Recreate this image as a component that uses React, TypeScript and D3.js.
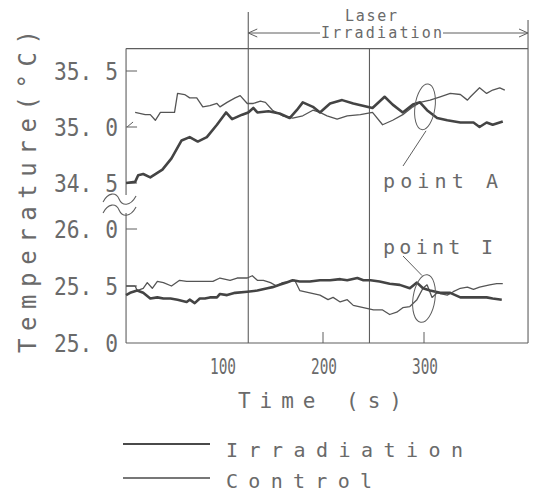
import React from "react";
import * as d3 from "d3";

// ---- data ----
const tA_irr = [5,14,17,22,29,41,50,60,68,76,85,95,104,110,120,126,131,135,146,157,167,174,180,190,197,207,219,230,249,261,269,279,289,296,303,313,323,336,349,355,362,368,378];
const vA_irr = [34.50,34.51,34.57,34.58,34.55,34.62,34.72,34.88,34.91,34.87,34.91,35.02,35.13,35.07,35.11,35.13,35.17,35.13,35.14,35.12,35.08,35.15,35.22,35.18,35.13,35.21,35.24,35.21,35.17,35.27,35.20,35.13,35.20,35.22,35.15,35.08,35.06,35.04,35.04,35.00,35.04,35.02,35.05];
const tA_ctl = [14,24,29,34,39,46,53,56,63,68,75,81,88,95,98,105,113,118,125,131,138,143,150,160,170,180,190,197,204,214,224,237,249,259,269,279,289,296,306,316,326,336,343,346,355,362,368,375,380];
const vA_ctl = [35.13,35.11,35.11,35.06,35.13,35.13,35.13,35.30,35.29,35.26,35.26,35.18,35.19,35.21,35.18,35.22,35.26,35.28,35.21,35.21,35.23,35.22,35.15,35.10,35.08,35.10,35.15,35.13,35.10,35.07,35.10,35.11,35.13,35.02,35.06,35.11,35.18,35.22,35.24,35.27,35.30,35.29,35.24,35.27,35.35,35.30,35.33,35.35,35.33];
const tI_irr = [5,9,16,22,29,36,42,49,56,65,68,73,78,83,88,95,98,105,113,125,135,145,150,157,164,170,177,187,197,207,217,224,234,240,247,256,266,276,286,293,299,306,316,326,336,343,352,362,368,377];
const vI_irr = [25.42,25.44,25.46,25.44,25.39,25.40,25.39,25.39,25.38,25.36,25.38,25.35,25.39,25.39,25.40,25.40,25.43,25.42,25.44,25.45,25.46,25.48,25.49,25.51,25.53,25.55,25.54,25.54,25.55,25.55,25.56,25.55,25.57,25.55,25.55,25.54,25.52,25.51,25.48,25.53,25.48,25.46,25.44,25.44,25.40,25.40,25.40,25.40,25.39,25.38];
const tI_ctl = [5,14,16,22,26,31,36,42,50,58,65,75,85,91,98,108,115,125,130,135,141,148,154,160,167,172,177,187,197,205,210,217,224,230,240,250,259,266,273,279,286,293,299,303,308,313,323,329,336,343,349,355,365,372,378];
const vI_ctl = [25.50,25.50,25.46,25.48,25.53,25.48,25.54,25.53,25.50,25.55,25.54,25.54,25.54,25.54,25.57,25.55,25.57,25.57,25.59,25.55,25.55,25.53,25.50,25.53,25.54,25.55,25.46,25.44,25.42,25.38,25.40,25.36,25.38,25.33,25.31,25.29,25.29,25.25,25.27,25.31,25.32,25.38,25.48,25.51,25.40,25.44,25.42,25.45,25.48,25.49,25.47,25.49,25.51,25.52,25.52];

const xTicks = [100, 200, 300];
const yUpTicks = [34.5, 35.0, 35.5];
const yLoTicks = [25.0, 25.5, 26.0];
const yUpLabels = ["34. 5", "35. 0", "35. 5"];
const yLoLabels = ["25. 0", "25. 5", "26. 0"];
const irradStart = 126;
const irradEnd = 246;
const timeStart = 5;
const timeEnd = 403;
const legendItems = ["Irradiation", "Control"];

export default function App() {
  const x = d3.scaleLinear().domain([0, 400]).range([121, 525]);
  const yUp = d3.scaleLinear().domain([34.5, 35.5]).range([183, 71]);
  const yLo = d3.scaleLinear().domain([25, 26]).range([343, 229]);

  const lineUp = d3.line<[number, number]>().x((d) => x(d[0])).y((d) => yUp(d[1]));
  const lineLo = d3.line<[number, number]>().x((d) => x(d[0])).y((d) => yLo(d[1]));
  const zip = (t: number[], v: number[]) => t.map((tt, i) => [tt, v[i]] as [number, number]);

  const L = x(timeStart);
  const R = x(timeEnd);
  const T = yUp(35.7);
  const B = yLo(25);
  const breakTop = 195;
  const breakBot = 213;

  const ink = "#5e5e5e";
  const txt = "#6a6a6a";
  const font = "'DejaVu Sans Mono', 'Liberation Mono', monospace";

  const wave = (cy: number) =>
    `M${L - 23},${cy + 3} C${L - 18},${cy - 7} ${L - 10},${cy - 7} ${L - 7},${cy} S${L + 4},${cy + 8} ${L + 10},${cy - 3}`;

  const aX = x(301), aY = yUp(35.18);
  const iX = x(300), iY = yLo(25.39);

  return (
    <svg width={534} height={493} style={{ position: "absolute", left: 0, top: 0, background: "#fff" }}>
      {/* frame */}
      <g stroke={ink} strokeWidth={1.1} fill="none">
        <line x1={L} y1={T} x2={R} y2={T} />
        <line x1={L} y1={B} x2={R} y2={B} />
        <line x1={R} y1={20} x2={R} y2={B} />
        <line x1={L} y1={T} x2={L} y2={breakTop} />
        <line x1={L} y1={breakBot} x2={L} y2={B} />
        <line x1={x(irradStart)} y1={12} x2={x(irradStart)} y2={B} />
        <line x1={x(irradEnd)} y1={T} x2={x(irradEnd)} y2={B} />
        <path d={wave(199)} />
        <path d={wave(210)} />
      </g>

      {/* y ticks */}
      <g stroke={ink} strokeWidth={1}>
        {yUpTicks.map((v) =>
          v === 35.0 ? (
            <g key={v}>
              <line x1={L} y1={yUp(v)} x2={L + 11} y2={yUp(v)} />
              <line x1={L + 1} y1={yUp(v)} x2={L + 7} y2={yUp(v) - 5} />
            </g>
          ) : (
            <line key={v} x1={L} y1={yUp(v)} x2={L + 11} y2={yUp(v)} />
          )
        )}
        {yLoTicks.slice(1).map((v) => (
          <line key={v} x1={L} y1={yLo(v)} x2={L + 11} y2={yLo(v)} />
        ))}
        {xTicks.slice(1).map((v) => (
          <line key={v} x1={x(v)} y1={B} x2={x(v)} y2={B - 11} />
        ))}
      </g>

      {/* y tick labels */}
      <g fill={txt} fontFamily={font} fontSize={24} textAnchor="end">
        {yUpTicks.map((v, i) => (
          <text key={v} x={118} y={yUp(v) + 9} textLength={64} lengthAdjust="spacingAndGlyphs">{yUpLabels[i]}</text>
        ))}
        {yLoTicks.map((v, i) => (
          <text key={v} x={118} y={yLo(v) + 9} textLength={64} lengthAdjust="spacingAndGlyphs">{yLoLabels[i]}</text>
        ))}
      </g>

      {/* x tick labels */}
      <g fill={txt} fontFamily={font} fontSize={22} textAnchor="middle">
        {xTicks.map((v) => (
          <text key={v} x={x(v) + 1} y={374} textLength={26} lengthAdjust="spacingAndGlyphs">{v}</text>
        ))}
      </g>

      {/* axis titles */}
      <text x={238} y={408} fill={txt} fontFamily={font} fontSize={21} textLength={164} lengthAdjust="spacing">Time (s)</text>
      <text transform="translate(36,353) rotate(-90)" fill={txt} fontFamily={font} fontSize={24} textLength={323} lengthAdjust="spacing">Temperature(°C)</text>

      {/* series */}
      <path d={lineUp(zip(tA_ctl, vA_ctl)) || ""} fill="none" stroke="#555" strokeWidth={1.3} strokeLinejoin="round" />
      <path d={lineUp(zip(tA_irr, vA_irr)) || ""} fill="none" stroke="#444" strokeWidth={2.6} strokeLinejoin="round" />
      <path d={lineLo(zip(tI_ctl, vI_ctl)) || ""} fill="none" stroke="#555" strokeWidth={1.3} strokeLinejoin="round" />
      <path d={lineLo(zip(tI_irr, vI_irr)) || ""} fill="none" stroke="#444" strokeWidth={2.6} strokeLinejoin="round" />

      {/* laser irradiation annotation */}
      <g stroke={ink} strokeWidth={1} fill="none">
        <line x1={x(irradStart)} y1={33} x2={320} y2={33} />
        <line x1={443} y1={33} x2={R} y2={33} />
        <polyline points={`${x(irradStart) + 9},29 ${x(irradStart)},33 ${x(irradStart) + 9},37`} />
        <polyline points={`${R - 9},29 ${R},33 ${R - 9},37`} />
      </g>
      <text x={371} y={21} fill={txt} fontFamily={font} fontSize={15} textAnchor="middle" textLength={52} lengthAdjust="spacing">Laser</text>
      <text x={321} y={38} fill={txt} fontFamily={font} fontSize={15} textLength={121} lengthAdjust="spacing">Irradiation</text>

      {/* point annotations */}
      <g stroke={ink} strokeWidth={1} fill="none">
        <ellipse cx={aX} cy={aY} rx={10} ry={23} transform={`rotate(8,${aX},${aY})`} />
        <line x1={aX + 1} y1={aY + 24} x2={403} y2={166} />
        <ellipse cx={iX} cy={iY} rx={11} ry={24} transform={`rotate(8,${iX},${iY})`} />
        <line x1={iX - 2} y1={iY - 23} x2={403} y2={256} />
      </g>
      <text x={383} y={188} fill={txt} fontFamily={font} fontSize={20} textLength={115} lengthAdjust="spacing">point A</text>
      <text x={383} y={254} fill={txt} fontFamily={font} fontSize={20} textLength={110} lengthAdjust="spacing">point I</text>

      {/* legend */}
      {legendItems.map((name, i) => (
        <g key={name}>
          <line x1={123} y1={444 + i * 34} x2={210} y2={444 + i * 34} stroke="#4a4a4a" strokeWidth={i === 0 ? 2.2 : 1.5} />
          <text x={226} y={457 + i * 31} fill={txt} fontFamily={font} fontSize={20} textLength={i === 0 ? 237 : 146} lengthAdjust="spacing">{name}</text>
        </g>
      ))}
    </svg>
  );
}
